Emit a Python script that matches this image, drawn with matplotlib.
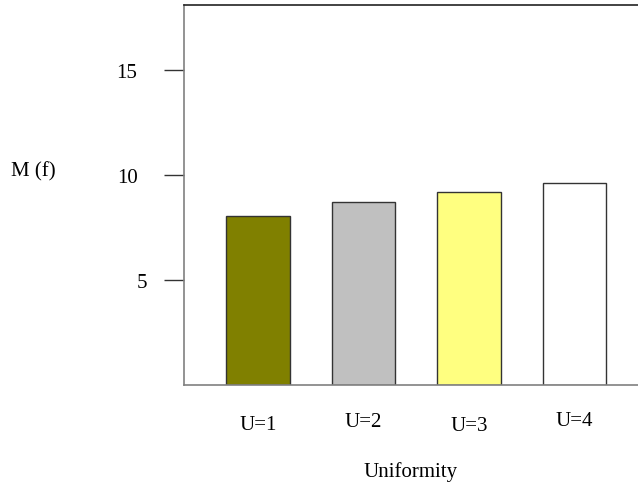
import matplotlib
matplotlib.use("Agg")
import matplotlib.pyplot as plt
import matplotlib.transforms as mtransforms

# Data
categories = ["U=1", "U=2", "U=3", "U=4"]
values = [8.05, 8.71, 9.2, 9.59]
colors = ["#808000", "#c0c0c0", "#ffff80", "#ffffff"]
# small vertical shifts of the category labels (points) seen in the original
label_shift = [0, 2.2, -0.3, 3]

plt.rcParams["font.family"] = "Liberation Serif"

fig = plt.figure(figsize=(6.38, 4.85), dpi=100)
ax = fig.add_axes([184 / 638, 1 - 386 / 485, 1 - 184 / 638, (386 - 5.5) / 485])

x = range(len(categories))
ax.bar(x, values, width=0.6, color=colors, edgecolor="#333333", linewidth=1)

ax.set_xlim(-0.70, 3.60)
ax.set_ylim(0, 18.1)

# Spines: left, bottom, top only
ax.spines["right"].set_visible(False)
ax.spines["left"].set_color("#808080")
ax.spines["bottom"].set_color("#808080")
ax.spines["top"].set_color("#222222")
for s in ax.spines.values():
    s.set_linewidth(1.2)

ax.set_yticks([5, 10, 15])
ax.set_yticklabels(["5", "10", "15"], fontsize=15)
ax.tick_params(axis="y", length=14.5, width=1, color="#333333", pad=19)
# the "5" sits closer to its tick in the original
five = ax.get_yticklabels()[0]
five.set_transform(five.get_transform() + mtransforms.ScaledTranslation(7 / 72, 0, fig.dpi_scale_trans))

ax.set_xticks(list(x))
ax.set_xticklabels(categories, fontsize=15)
ax.tick_params(axis="x", length=0, pad=21.7)
for lab, dy in zip(ax.get_xticklabels(), label_shift):
    lab.set_transform(lab.get_transform() + mtransforms.ScaledTranslation(0, dy / 72, fig.dpi_scale_trans))

ax.set_xlabel("Uniformity", fontsize=15, labelpad=19)
fig.text(33 / 638, 1 - 172 / 485, "M (f)", fontsize=15, ha="center", va="center")

fig.savefig("out.png", dpi=100)
